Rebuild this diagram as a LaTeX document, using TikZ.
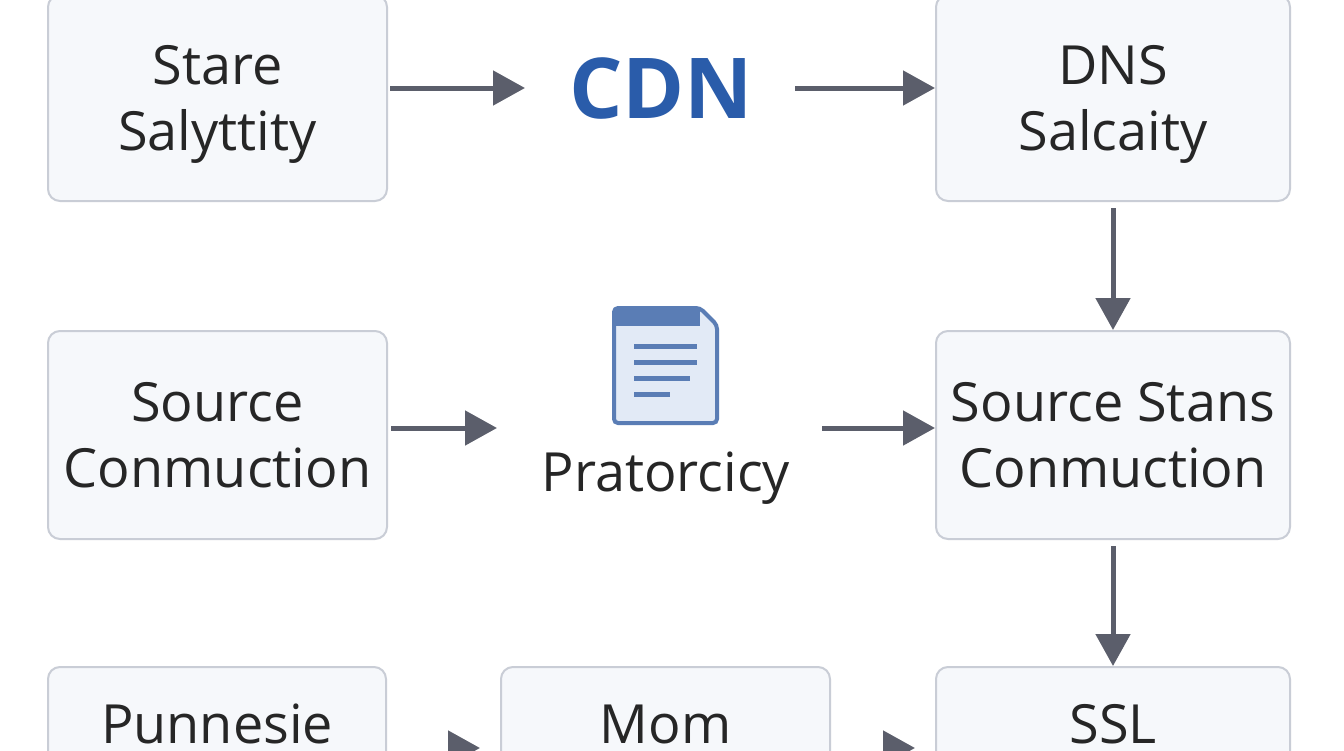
\documentclass[tikz,border=0pt]{standalone}
\usepackage{fontspec}
\setmainfont{Open Sans}
\usetikzlibrary{arrows.meta}
\definecolor{boxline}{HTML}{C9CDD6}
\definecolor{boxfill}{HTML}{F6F8FB}
\definecolor{arr}{HTML}{5B5E6B}
\definecolor{cdn}{HTML}{2A5CAA}
\definecolor{docline}{HTML}{5A7DB5}
\definecolor{docfill}{HTML}{E2EAF6}
\begin{document}
\begin{tikzpicture}[x=0.5pt,y=-0.5pt,
  box/.style={draw=boxline,line width=1pt,fill=boxfill,rounded corners=6pt,minimum width=#1*0.5pt,align=center,font=\fontsize{27}{33}\selectfont,text=black!85},
  arrow/.style={draw=arr,line width=2.5pt,-{Triangle[length=16pt,width=17pt]}},
  lbl/.style={font=\fontsize{27}{33}\selectfont,text=black!85,align=center}]
\fill[white] (0,0) rectangle (1344,750);
\useasboundingbox (0,0) rectangle (1344,750);
\clip (0,0) rectangle (1344,750);
\node[box=339,minimum height=206*0.5pt] (a) at (217.5,98) {};
\node[lbl] at (217.5,104) {Stare\\Salyttity};
\node[font=\fontsize{42}{50}\selectfont\bfseries,text=cdn] (cdn) at (661,88) {CDN};
\node[box=354,minimum height=206*0.5pt] (b) at (1113,98) {};
\node[lbl] at (1113,104) {DNS\\Salcaity};
\node[box=339,minimum height=208*0.5pt] (c) at (217.5,435) {Source\\Conmuction};
\node[box=354,minimum height=208*0.5pt] (d) at (1113,435) {Source Stans\\Conmuction};
\node[lbl] (p) at (666,478) {Pratorcicy};
\node[box=338,minimum height=180*0.5pt] (e) at (217,757) {Punnesie\\ };
\node[box=329,minimum height=180*0.5pt] (f) at (665.5,757) {Mom\\ };
\node[box=354,minimum height=180*0.5pt] (g) at (1113,757) {SSL\\ };
% icon
\draw[docline,line width=2pt,fill=docfill,rounded corners=2pt] (614,308) -- (700,308) -- (717,325) -- (717,423) -- (614,423) -- cycle;
\fill[docline] (614,308) rectangle (700,326);
\draw[docline,line width=2.5pt] (634,346) -- (697,346) (634,362) -- (697,362) (634,378) -- (690,378) (634,394) -- (670,394);
\coordinate (ia) at (497,428);
\coordinate (ib) at (822,428);
\coordinate (c1) at (795,88);
\draw[arrow] (390,88) -- (525,88);
\draw[arrow] (c1) -- (b.west |- c1);
\draw[arrow] (b.south) ++(0,6) -- (d.north);
\draw[arrow] (c.east) ++(3,-7) -- (ia);
\draw[arrow] (ib) -- (d.west |- ib);
\draw[arrow] (d.south) ++(0,6) -- (g.north);
\draw[arrow] (455,748) -- (480,748);
\draw[arrow] (890,748) -- (915,748);
\end{tikzpicture}
\end{document}
